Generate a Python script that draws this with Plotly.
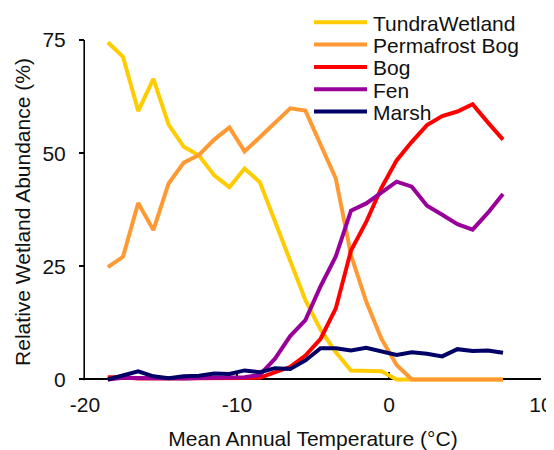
import plotly.graph_objects as go

# ---- data ----
temps = [-18.5, -17.5, -16.5, -15.5, -14.5, -13.5, -12.5, -11.5, -10.5, -9.5,
         -8.5, -7.5, -6.5, -5.5, -4.5, -3.5, -2.5, -1.5, -0.5, 0.5,
         1.5, 2.5, 3.5, 4.5, 5.5, 6.5, 7.5]

tundra = [74.5, 71.3, 59.3, 66.4, 56.3, 51.4, 49.5, 45.1, 42.5, 46.6,
          43.6, 35.0, 26.0, 17.5, 11.0, 6.0, 2.0, 2.0, 1.8, 0.0,
          0.0, 0.0, 0.0, 0.0, 0.0, 0.0, 0.0]
permafrost_bog = [24.8, 27.1, 39.0, 33.0, 43.3, 47.9, 49.6, 53.0, 55.7, 50.4,
                  53.5, 56.7, 59.9, 59.4, 51.8, 44.4, 27.5, 17.2, 9.0, 3.2,
                  0.0, 0.0, 0.0, 0.0, 0.0, 0.0, 0.0]
bog = [0.5, 0.5, 0.2, 0.2, 0.1, 0.1, 0.1, 0.1, 0.2, 0.3,
       0.4, 1.5, 2.8, 5.3, 9.0, 15.7, 28.5, 34.8, 42.3, 48.4,
       52.5, 56.2, 58.2, 59.2, 60.8, 56.8, 53.0]
fen = [0.0, 0.4, 0.3, 0.2, 0.2, 0.2, 0.3, 0.3, 0.4, 0.5,
       1.0, 4.6, 9.6, 13.1, 20.6, 27.2, 37.3, 38.9, 41.3, 43.7,
       42.6, 38.4, 36.4, 34.3, 33.1, 36.8, 41.0]
marsh = [0.0, 0.9, 1.8, 0.7, 0.3, 0.7, 0.8, 1.3, 1.2, 2.0,
         1.6, 2.5, 2.3, 4.2, 6.9, 6.9, 6.4, 7.0, 6.1, 5.4,
         6.0, 5.7, 5.1, 6.7, 6.3, 6.4, 5.9]

names = ["TundraWetland", "Permafrost Bog", "Bog", "Fen", "Marsh"]
colors = ["#FFCC00", "#FF9933", "#FF0000", "#990099", "#000066"]
series = [tundra, permafrost_bog, bog, fen, marsh]

x_ticks = [-20, -10, 0, 10]
y_ticks = [0, 25, 50, 75]

# ---- layout geometry ----
# the page body has an 8px default margin, so the figure is made 8px smaller
# and all positions are expressed in window pixels minus that offset
OFF = 8
W, H = 554 - OFF, 450 - OFF
L, R, T, B = 85 - OFF, 13, 40 - OFF, 66
PW, PH = W - L - R, H - T - B
Y_MIN, Y_MAX = -1, 75
FONT = "Arial, Liberation Sans, sans-serif"
TXT = "#111111"
FS = 21


def px_to_paper_x(px):
    return (px - OFF - L) / PW


def px_to_paper_y(py):
    return (T + PH - (py - OFF)) / PH


fig = go.Figure()
for name, vals, col in zip(names, series, colors):
    fig.add_trace(go.Scatter(x=temps, y=vals, mode="lines", name=name,
                             line=dict(color=col, width=4),
                             showlegend=False))

shapes = []
annotations = []
# y-axis line
zero_paper = (0 - Y_MIN) / (Y_MAX - Y_MIN)
shapes.append(dict(type="line", xref="paper", yref="paper",
                   x0=-0.8 / PW, x1=-0.8 / PW, y0=zero_paper - 0.7 / PH, y1=1,
                   line=dict(color="black", width=1.6), layer="below"))

# manual legend (tight spacing like the reference)
leg_y = [22.3, 44.6, 66.9, 89.2, 111.5]
for name, col, ly in zip(names, colors, leg_y):
    shapes.append(dict(type="line", xref="paper", yref="paper",
                       x0=px_to_paper_x(314), x1=px_to_paper_x(367),
                       y0=px_to_paper_y(ly), y1=px_to_paper_y(ly),
                       line=dict(color=col, width=4)))
    annotations.append(dict(xref="paper", yref="paper",
                            x=px_to_paper_x(371), y=px_to_paper_y(ly + 1),
                            xanchor="left", yanchor="middle", showarrow=False,
                            text=name, font=dict(family=FONT, size=FS, color=TXT)))

fig.update_layout(
    width=W, height=H,
    margin=dict(l=L, r=R, t=T, b=B, pad=0, autoexpand=False),
    paper_bgcolor="white", plot_bgcolor="white",
    font=dict(family=FONT, size=FS, color=TXT),
    showlegend=False,
    shapes=shapes, annotations=annotations,
    xaxis=dict(range=[-20, 10], tickvals=x_ticks, ticktext=[str(v) for v in x_ticks],
               ticks="inside", ticklen=7, tickwidth=1.6, tickcolor="black",
               showline=True, linecolor="black", linewidth=1.6,
               anchor="free", position=zero_paper, automargin=False,
               showgrid=False, zeroline=False, layer="below traces",
               tickfont=dict(size=FS, color=TXT), ticklabelstandoff=7,
               title=dict(text="Mean Annual Temperature (°C)",
                          font=dict(size=FS, color=TXT), standoff=18)),
    yaxis=dict(range=[Y_MIN, Y_MAX], tickvals=y_ticks, ticktext=[str(v) for v in y_ticks],
               ticks="outside", ticklen=5, tickwidth=1.6, tickcolor="black",
               showline=False, showgrid=False, zeroline=False, automargin=False,
               tickfont=dict(size=FS, color=TXT), ticklabelstandoff=9,
               title=dict(text="Relative Wetland Abundance (%)",
                          font=dict(size=FS, color=TXT), standoff=6)),
)

fig.write_html("out.html")
